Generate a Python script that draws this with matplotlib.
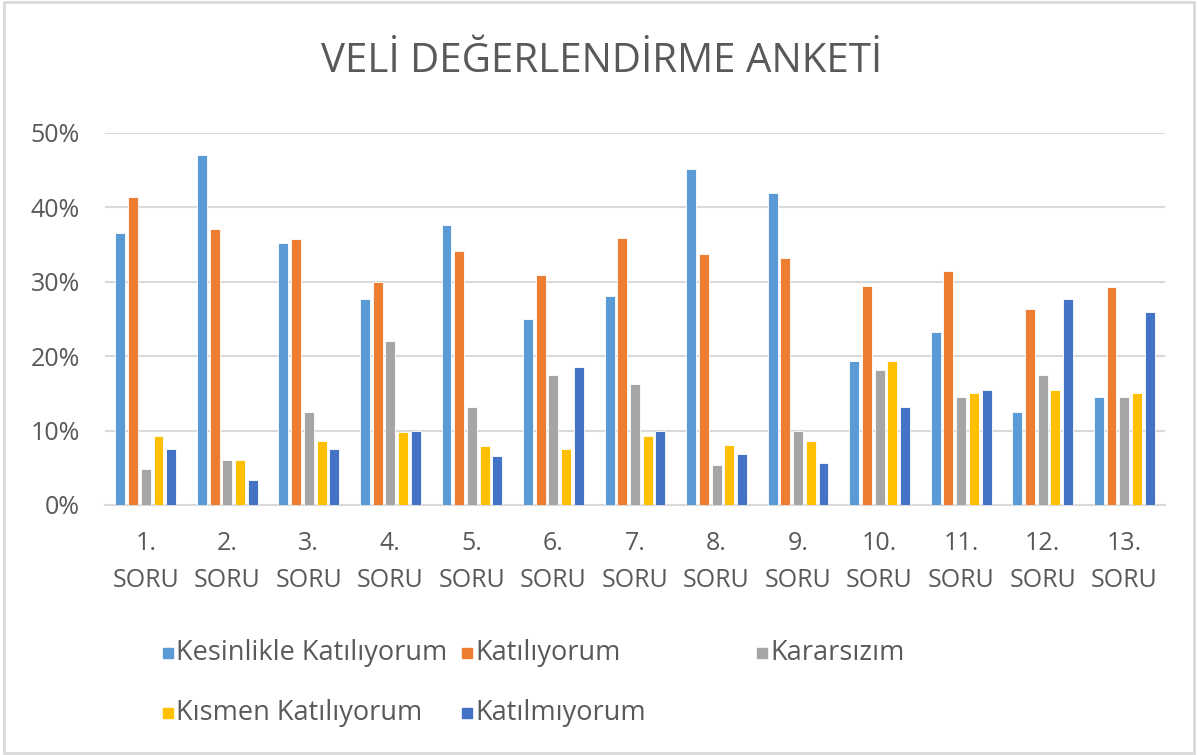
import numpy as np
import matplotlib
matplotlib.use("Agg")
import matplotlib.pyplot as plt
from matplotlib.patches import Rectangle

# survey results per question (fraction of answers)
categories = ["%d.\nSORU" % i for i in range(1, 14)]
series_names = ["Kesinlikle Katılıyorum", "Katılıyorum", "Kararsızım",
                "Kısmen Katılıyorum", "Katılmıyorum"]
kesinlikle = [36.6, 47.1, 35.2, 27.7, 37.7, 25.0, 28.1, 45.2, 42.0, 19.3, 23.2, 12.5, 14.5]
katiliyorum = [41.4, 37.1, 35.7, 30.0, 34.1, 30.9, 35.9, 33.8, 33.2, 29.5, 31.4, 26.3, 29.3]
kararsizim = [4.8, 6.1, 12.5, 22.0, 13.2, 17.5, 16.2, 5.4, 10.0, 18.2, 14.5, 17.5, 14.5]
kismen = [9.3, 6.1, 8.6, 9.8, 7.9, 7.5, 9.3, 8.1, 8.6, 19.3, 15.0, 15.5, 15.0]
katilmiyorum = [7.5, 3.4, 7.5, 10.0, 6.6, 18.6, 10.0, 6.8, 5.7, 13.2, 15.5, 27.7, 25.9]
colors = ["#5B9BD5", "#ED7D31", "#A5A5A5", "#FFC000", "#4472C4"]

FONT = "Open Sans"
TXT = "#595959"
GRID = "#D9D9D9"


def main():
    plt.rcParams['font.family'] = [FONT, 'DejaVu Sans']
    fig = plt.figure(figsize=(11.98, 7.55), dpi=100)
    ax = fig.add_axes([105 / 1198, 1 - 505 / 755, 1060 / 1198, 372 / 755])

    data = [kesinlikle, katiliyorum, kararsizim, kismen, katilmiyorum]
    x = np.arange(len(categories))
    pitch = 0.156
    for i, vals in enumerate(data):
        ax.bar(x + (i - 2) * pitch, np.array(vals) / 100, width=0.122,
               color=colors[i], edgecolor="white", linewidth=0.6, zorder=3)

    ax.set_xlim(-0.5, len(categories) - 0.5)
    ax.set_ylim(0, 0.5)
    ax.set_yticks(np.arange(0, 0.51, 0.1))
    ax.set_yticklabels(["%d%%" % v for v in range(0, 51, 10)])
    ax.set_xticks(x)
    ax.set_xticklabels(categories, linespacing=1.6)
    ax.tick_params(axis="both", length=0, labelsize=18, labelcolor=TXT)
    ax.tick_params(axis="y", pad=18)
    ax.tick_params(axis="x", pad=19)
    ax.grid(axis="y", color=GRID, linewidth=1.5, zorder=0)
    for s in ["top", "right", "left"]:
        ax.spines[s].set_visible(False)
    ax.spines["bottom"].set_color(GRID)
    ax.spines["bottom"].set_linewidth(1.5)

    fig.text(602 / 1198, 1 - 62 / 755, "VELİ DEĞERLENDİRME ANKETİ",
             ha="center", va="center", fontsize=29, color=TXT)

    # legend laid out like the Excel one: 3 equal columns, row-major
    col_x = [163, 462, 757]
    row_y = [653, 713]
    for k, name in enumerate(series_names):
        r, c = divmod(k, 3)
        mx, my = col_x[c], row_y[r]
        fig.add_artist(Rectangle((mx / 1198, 1 - (my + 5) / 755), 10 / 1198, 10 / 755,
                                 transform=fig.transFigure, color=colors[k]))
        fig.text((mx + 13) / 1198, 1 - my / 755, name, ha="left", va="center",
                 fontsize=19.5, color=TXT)

    fig.add_artist(Rectangle((0.003, 0.003), 0.994, 0.994, transform=fig.transFigure,
                             fill=False, edgecolor=GRID, linewidth=2))
    fig.savefig("out.png", dpi=100)


if __name__ == "__main__":
    main()
